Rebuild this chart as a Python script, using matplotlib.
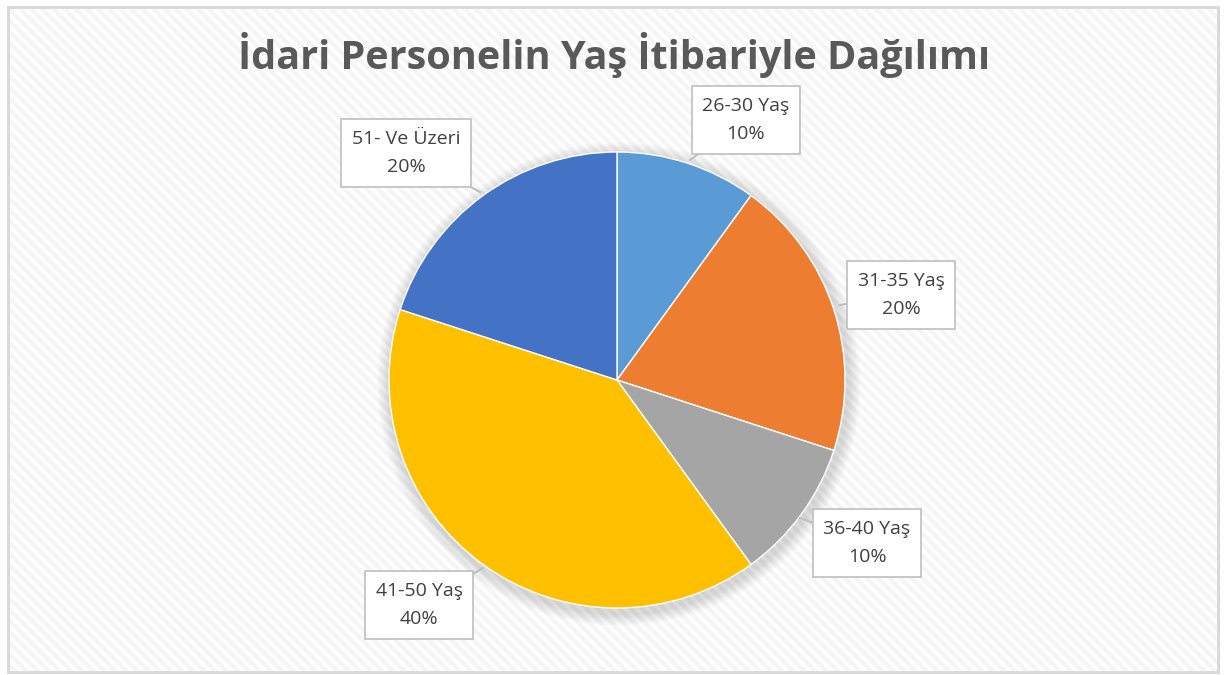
import numpy as np
import matplotlib
matplotlib.use("Agg")
import matplotlib.pyplot as plt
from matplotlib.patches import Rectangle, Circle

plt.rcParams['font.family'] = ['Open Sans', 'DejaVu Sans']
plt.rcParams['hatch.linewidth'] = 3.0

title = "İdari Personelin Yaş İtibariyle Dağılımı"
categories = ["26-30 Yaş", "31-35 Yaş", "36-40 Yaş", "41-50 Yaş", "51- Ve Üzeri"]
shares = [10, 20, 10, 40, 20]
colors = ["#5B9BD5", "#ED7D31", "#A5A5A5", "#FFC000", "#4472C4"]

# label box centres and pointer targets, in pixel coords (y down)
label_pos = [(746, 120), (901, 295), (867, 543), (419, 605), (406, 153)]
pointer_to = [(690, 160), (840, 305), (800, 518), (483, 568), (480, 192)]

W, H = 1226, 675
fig = plt.figure(figsize=(W / 100, H / 100), dpi=100)
ax = fig.add_axes([0, 0, 1, 1])
ax.set_xlim(0, W)
ax.set_ylim(0, H)
ax.set_aspect('equal')
ax.axis('off')

# striped background with light border
ax.add_patch(Rectangle((8, 3), W - 16, H - 10, facecolor='white', edgecolor='#d9d9d9',
                       linewidth=2, zorder=0))
ax.add_patch(Rectangle((8, 3), W - 16, H - 10, facecolor='none', edgecolor='#f5f5f5',
                       hatch='\\\\\\', linewidth=0, zorder=0))
ax.add_patch(Rectangle((8, 3), W - 16, H - 10, facecolor='none', edgecolor='#d9d9d9',
                       linewidth=2, zorder=0.5))

cx, cy, r = 617, H - 380, 228

# soft shadow
for i in range(12):
    ax.add_patch(Circle((cx + 2, cy - 4), r + 14 - i, facecolor='#000000', alpha=0.012,
                        linewidth=0, zorder=1))

ax.pie(shares, colors=colors, startangle=90, counterclock=False, center=(cx, cy),
       radius=r, frame=True, wedgeprops=dict(linewidth=1, edgecolor='white', zorder=2))
ax.set_xlim(0, W)
ax.set_ylim(0, H)
ax.axis('off')

ax.text(W / 2 + 1, H - 55, title, ha='center', va='center', fontsize=28.5, fontweight='bold',
        color='#595959', zorder=5)

for cat, val, (lx, ly), (px, py) in zip(categories, shares, label_pos, pointer_to):
    ax.plot([lx, px], [H - ly, H - py], color='#bfbfbf', linewidth=1.5, zorder=3)
    ax.text(lx, H - ly, "{}\n{}%".format(cat, val), ha='center', va='center', fontsize=14,
            color='#404040', linespacing=1.7, zorder=4,
            bbox=dict(boxstyle='square,pad=0.55', facecolor='white', edgecolor='#bfbfbf',
                      linewidth=1.2))

fig.savefig("out.png", dpi=100)
